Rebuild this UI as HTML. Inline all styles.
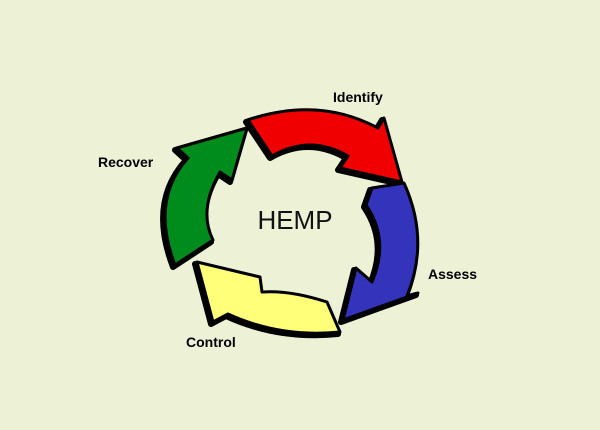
<!DOCTYPE html>
<html><head><style>
html,body{margin:0;padding:0;background:#edf1d6;}
svg{display:block}
text{font-family:"Liberation Sans",sans-serif;}
</style></head><body>
<svg width="600" height="430" viewBox="0 0 600 430">
<rect width="600" height="430" fill="#edf1d6"/>
<g fill="#000" stroke="#000" stroke-width="6" stroke-linejoin="round" transform="translate(-2,2)">
<path d="M248,120 Q318,96 378,128 L384,118 L402,182 L340,168 L348,156 Q310,134 272,156 Z"/>
<path d="M372,188 L404,183 Q430,240 407,296 L418,293 L343,320 L356,268 L372,282 Q390,240 366,205 Z"/>
<path d="M327,302 Q290,290 262,292 L260,277 L197,262 L213,322 L228,314 Q280,338 340,332 Z"/>
<path d="M175,265 Q150,200 188,158 L177,148 L247,128 L232,180 L220,172 Q198,210 213,240 Z"/>
</g>
<g stroke="#000" stroke-width="3" stroke-linejoin="round">
<path fill="#f00000" d="M248,120 Q318,96 378,128 L384,118 L402,182 L340,168 L348,156 Q310,134 272,156 Z"/>
<path fill="#3333bb" d="M372,188 L404,183 Q430,240 407,296 L418,293 L343,320 L356,268 L372,282 Q390,240 366,205 Z"/>
<path fill="#ffff7a" d="M327,302 Q290,290 262,292 L260,277 L197,262 L213,322 L228,314 Q280,338 340,332 Z"/>
<path fill="#008c1c" d="M175,265 Q150,200 188,158 L177,148 L247,128 L232,180 L220,172 Q198,210 213,240 Z"/>
</g>
<g font-weight="bold" font-size="14" fill="#000">
<text x="333" y="102">Identify</text>
<text x="98" y="167">Recover</text>
<text x="428" y="279">Assess</text>
<text x="186" y="347">Control</text>
</g>
<text x="295" y="229" font-size="26" text-anchor="middle" fill="#111">HEMP</text>
</svg>
</body></html>
